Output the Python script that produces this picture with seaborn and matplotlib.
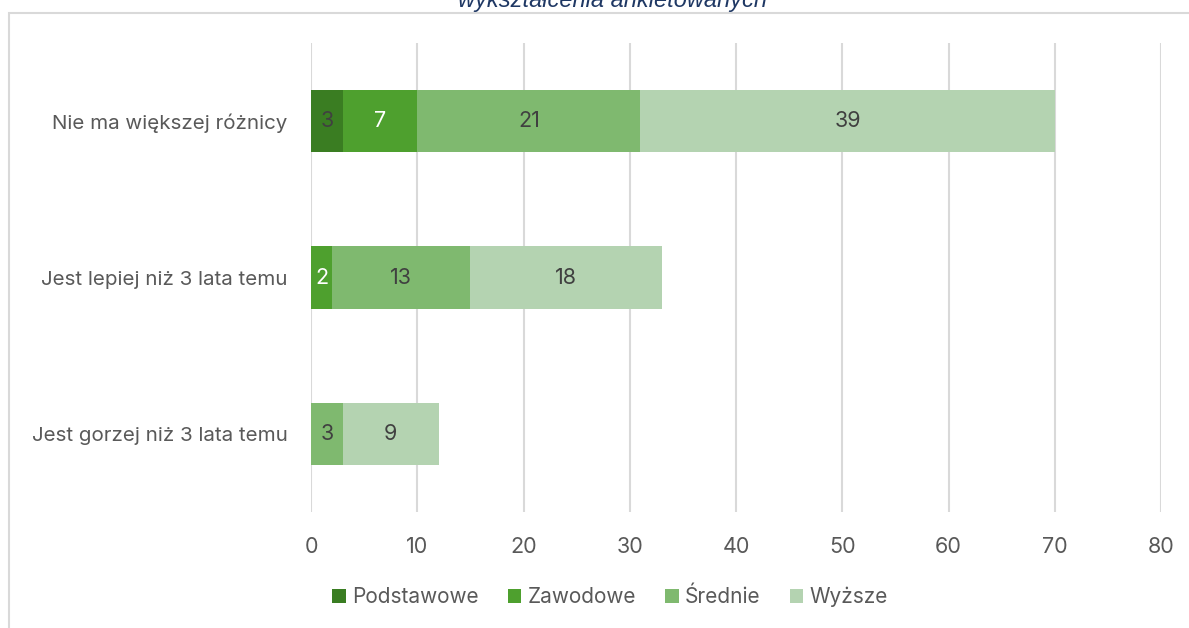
import matplotlib
matplotlib.use("Agg")
import matplotlib.pyplot as plt
import seaborn as sns
import pandas as pd
import numpy as np
from matplotlib.patches import Rectangle, Patch

categories = ["Nie ma większej różnicy", "Jest lepiej niż 3 lata temu", "Jest gorzej niż 3 lata temu"]
series = ["Podstawowe", "Zawodowe", "Średnie", "Wyższe"]
podstawowe = [3, 0, 0]
zawodowe = [7, 2, 0]
srednie = [21, 13, 3]
wyzsze = [39, 18, 9]
colors = ["#3A7D22", "#4EA02E", "#7FB96F", "#B4D3B1"]
label_colors = ["#404040", "#FFFFFF", "#404040", "#404040"]
title = "wykształcenia ankietowanych"

sns.set_theme(style="white")
plt.rcParams["font.family"] = ["Inter", "DejaVu Sans"]

FS = 15.5

values = np.array([podstawowe, zawodowe, srednie, wyzsze], dtype=float)
cum = np.cumsum(values, axis=0)

fig = plt.figure(figsize=(11.89, 6.28), dpi=100)
ax = fig.add_axes([311/1189, 1-512/628, (1161-311)/1189, (512-43)/628])

# draw from largest cumulative to smallest so each overlays
for i in reversed(range(len(series))):
    df = pd.DataFrame({"cat": categories, "val": cum[i]})
    sns.barplot(data=df, y="cat", x="val", order=categories, color=colors[i],
                saturation=1, width=0.4, ax=ax, zorder=3, linewidth=0)

# labels
for i in range(len(series)):
    for j in range(len(categories)):
        v = values[i, j]
        if v > 0:
            ax.text(cum[i, j] - v/2, j, f"{int(v)}", ha="center", va="center",
                    fontsize=FS, color=label_colors[i], zorder=5)

ax.set_xlim(0, 80)
ax.set_ylim(2.5, -0.5)
ax.set_xticks(range(0, 81, 10))
ax.xaxis.grid(True, color="#D9D9D9", linewidth=1.5, zorder=0)
ax.yaxis.grid(False)
for s in ax.spines.values():
    s.set_visible(False)
ax.set_xlabel("")
ax.set_ylabel("")
ax.tick_params(axis="x", length=0, labelsize=FS, labelcolor="#595959", pad=18)
ax.tick_params(axis="y", length=0, labelsize=14.8, labelcolor="#595959", pad=17)

handles = [Patch(facecolor=c, edgecolor="none") for c in colors]
fig.legend(handles, series, loc="center", bbox_to_anchor=(610/1189, 1-597/628), ncol=4,
           frameon=False, fontsize=15, handlelength=0.65, handleheight=0.65,
           handletextpad=0.3, columnspacing=1.4, labelcolor="#595959")

fig.patches.append(Rectangle((8.5/1189, -0.1), 1.2, 1 - 13.5/628 + 0.1, transform=fig.transFigure,
                             fill=False, edgecolor="#D9D9D9", linewidth=1.5, zorder=0))

fig.text(612/1189, 1-7/628, title, ha="center", va="baseline", fontsize=17, style="italic",
         color="#1F3864", family=["Liberation Sans", "DejaVu Sans"])

fig.savefig("out.png", dpi=100)
